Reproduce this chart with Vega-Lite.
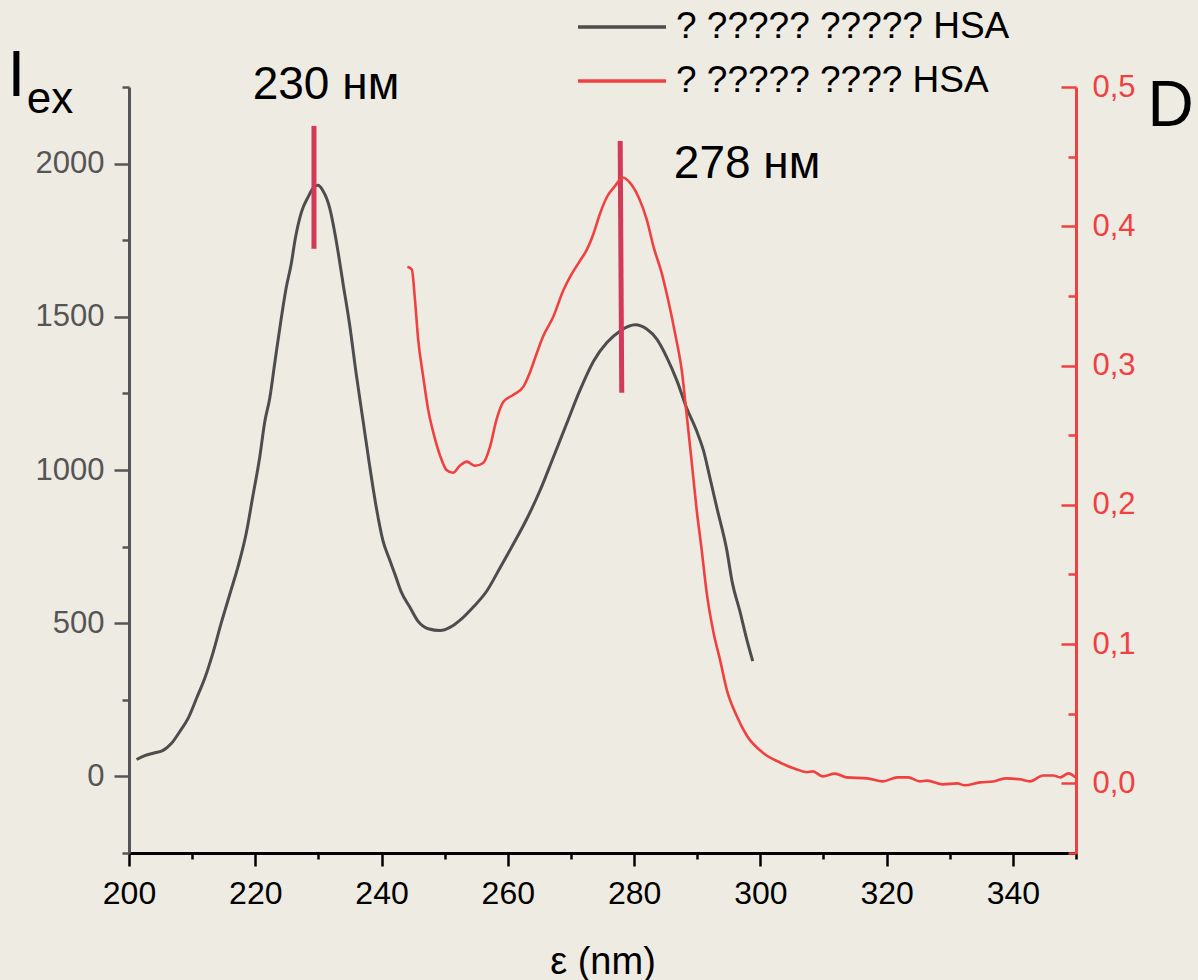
{
  "$schema": "https://vega.github.io/schema/vega-lite/v6.json",
  "width": 947,
  "height": 766,
  "autosize": {"type": "none"},
  "padding": {"left": 129, "top": 87, "right": 122, "bottom": 127},
  "background": "#eeebe3",
  "config": {
    "view": {"stroke": null},
    "font": "Liberation Sans",
    "axis": {"grid": false, "labelFlush": false, "labelOverlap": false}
  },
  "datasets": {
    "excitation": [
      {"nm": 201.2, "I": 55}, {"nm": 202.5, "I": 68}, {"nm": 204.1, "I": 77}, {"nm": 205.4, "I": 85},
      {"nm": 206.7, "I": 107}, {"nm": 208.0, "I": 145}, {"nm": 209.4, "I": 191}, {"nm": 210.7, "I": 255},
      {"nm": 212.0, "I": 320}, {"nm": 213.3, "I": 403}, {"nm": 214.6, "I": 500}, {"nm": 216.0, "I": 597},
      {"nm": 217.3, "I": 687}, {"nm": 218.6, "I": 797}, {"nm": 219.6, "I": 913}, {"nm": 220.7, "I": 1041},
      {"nm": 221.5, "I": 1157}, {"nm": 222.3, "I": 1235}, {"nm": 223.1, "I": 1351}, {"nm": 224.1, "I": 1493},
      {"nm": 224.9, "I": 1595}, {"nm": 225.7, "I": 1673}, {"nm": 226.3, "I": 1751}, {"nm": 227.3, "I": 1841},
      {"nm": 228.4, "I": 1892}, {"nm": 229.2, "I": 1921}, {"nm": 229.9, "I": 1929}, {"nm": 230.7, "I": 1912},
      {"nm": 231.8, "I": 1854}, {"nm": 232.8, "I": 1751}, {"nm": 233.9, "I": 1609}, {"nm": 235.0, "I": 1467},
      {"nm": 236.0, "I": 1312}, {"nm": 237.1, "I": 1157}, {"nm": 238.1, "I": 1016}, {"nm": 239.2, "I": 874},
      {"nm": 240.2, "I": 771}, {"nm": 241.3, "I": 706}, {"nm": 242.1, "I": 661}, {"nm": 243.1, "I": 603},
      {"nm": 244.5, "I": 552}, {"nm": 245.8, "I": 506}, {"nm": 247.4, "I": 482}, {"nm": 249.3, "I": 476},
      {"nm": 250.9, "I": 487}, {"nm": 252.4, "I": 509}, {"nm": 254.5, "I": 552}, {"nm": 256.7, "I": 606},
      {"nm": 258.8, "I": 682}, {"nm": 260.9, "I": 759}, {"nm": 263.0, "I": 840}, {"nm": 265.1, "I": 933},
      {"nm": 267.2, "I": 1041}, {"nm": 269.3, "I": 1150}, {"nm": 271.4, "I": 1259}, {"nm": 273.6, "I": 1356},
      {"nm": 275.7, "I": 1416}, {"nm": 277.8, "I": 1454}, {"nm": 280.2, "I": 1474}, {"nm": 282.0, "I": 1460},
      {"nm": 283.6, "I": 1427}, {"nm": 285.2, "I": 1367}, {"nm": 286.8, "I": 1291}, {"nm": 288.3, "I": 1204},
      {"nm": 289.9, "I": 1128}, {"nm": 291.0, "I": 1063}, {"nm": 292.0, "I": 976}, {"nm": 293.1, "I": 878},
      {"nm": 294.7, "I": 737}, {"nm": 295.5, "I": 639}, {"nm": 296.8, "I": 536}, {"nm": 297.9, "I": 443},
      {"nm": 298.8, "I": 376}
    ],
    "absorption": [
      {"nm": 244.1, "D": 0.371}, {"nm": 244.8, "D": 0.369}, {"nm": 245.3, "D": 0.347}, {"nm": 245.8, "D": 0.319},
      {"nm": 246.6, "D": 0.292}, {"nm": 247.4, "D": 0.268}, {"nm": 248.2, "D": 0.252}, {"nm": 249.3, "D": 0.235},
      {"nm": 250.3, "D": 0.225}, {"nm": 251.3, "D": 0.223}, {"nm": 252.4, "D": 0.228}, {"nm": 253.5, "D": 0.231},
      {"nm": 254.8, "D": 0.228}, {"nm": 256.1, "D": 0.230}, {"nm": 257.2, "D": 0.242}, {"nm": 258.2, "D": 0.261},
      {"nm": 259.3, "D": 0.274}, {"nm": 260.9, "D": 0.279}, {"nm": 262.5, "D": 0.285}, {"nm": 263.5, "D": 0.295},
      {"nm": 264.6, "D": 0.309}, {"nm": 265.6, "D": 0.321}, {"nm": 267.2, "D": 0.335}, {"nm": 268.8, "D": 0.354},
      {"nm": 269.9, "D": 0.364}, {"nm": 271.4, "D": 0.375}, {"nm": 272.5, "D": 0.383}, {"nm": 273.6, "D": 0.395},
      {"nm": 274.6, "D": 0.409}, {"nm": 275.7, "D": 0.421}, {"nm": 277.0, "D": 0.429}, {"nm": 278.2, "D": 0.435},
      {"nm": 279.4, "D": 0.431}, {"nm": 280.7, "D": 0.421}, {"nm": 282.0, "D": 0.405}, {"nm": 283.1, "D": 0.385},
      {"nm": 284.4, "D": 0.366}, {"nm": 285.4, "D": 0.347}, {"nm": 286.5, "D": 0.323}, {"nm": 287.6, "D": 0.295},
      {"nm": 288.3, "D": 0.266}, {"nm": 289.1, "D": 0.232}, {"nm": 289.9, "D": 0.197}, {"nm": 290.7, "D": 0.168},
      {"nm": 291.5, "D": 0.137}, {"nm": 292.6, "D": 0.108}, {"nm": 293.6, "D": 0.089}, {"nm": 294.7, "D": 0.067},
      {"nm": 296.3, "D": 0.048}, {"nm": 297.9, "D": 0.034}, {"nm": 300.4, "D": 0.022}, {"nm": 303.1, "D": 0.015},
      {"nm": 305.8, "D": 0.010}, {"nm": 307.4, "D": 0.008}, {"nm": 308.3, "D": 0.0086}, {"nm": 309.9, "D": 0.005},
      {"nm": 311.8, "D": 0.007}, {"nm": 313.7, "D": 0.0043}, {"nm": 316.9, "D": 0.0036}, {"nm": 319.4, "D": 0.0014},
      {"nm": 321.7, "D": 0.0043}, {"nm": 323.4, "D": 0.0043}, {"nm": 325.3, "D": 0.0014}, {"nm": 326.4, "D": 0.002},
      {"nm": 328.9, "D": -0.0007}, {"nm": 331.2, "D": 0.0}, {"nm": 332.4, "D": -0.0014}, {"nm": 334.8, "D": 0.0007},
      {"nm": 336.9, "D": 0.0014}, {"nm": 338.8, "D": 0.0036}, {"nm": 341.1, "D": 0.0029}, {"nm": 342.7, "D": 0.0014},
      {"nm": 344.8, "D": 0.0057}, {"nm": 346.4, "D": 0.0057}, {"nm": 347.5, "D": 0.0043}, {"nm": 348.8, "D": 0.0072},
      {"nm": 349.9, "D": 0.0043}
    ],
    "peakMarks": [
      {"nm": 229.3, "nmEnd": 229.3, "top": 2123, "bottom": 1722},
      {"nm": 277.8, "nmEnd": 278.05, "top": 2074, "bottom": 1252}
    ],
    "excitationPeak": [
      {"nm": 231.2, "I": 2211, "label": "230 нм"}
    ],
    "absorptionPeak": [
      {"nm": 297.9, "D": 0.435, "label": "278 нм"}
    ],
    "subscript": [
      {"nm": 183.8, "I": 2166, "label": "ex"}
    ]
  },
  "layer": [
    {
      "data": {"name": "excitation"},
      "mark": {"type": "line", "strokeWidth": 3, "interpolate": "monotone"},
      "encoding": {
        "x": {
          "field": "nm", "type": "quantitative",
          "scale": {"domain": [200, 350], "nice": false, "zero": false},
          "axis": {
            "orient": "bottom",
            "values": [200, 220, 240, 260, 280, 300, 320, 340],
            "format": "d",
            "tickSize": 13, "tickColor": "#000000", "tickWidth": 2.5,
            "domainColor": "#000000", "domainWidth": 3,
            "labelFontSize": 32, "labelColor": "#000000", "labelPadding": 12,
            "title": "ε  (nm)", "titleFontSize": 38, "titleFontWeight": "normal", "titleColor": "#000000",
            "titleBaseline": "alphabetic", "titleY": 120
          }
        },
        "y": {
          "field": "I", "type": "quantitative",
          "scale": {"domain": [-250, 2250], "nice": false, "zero": false},
          "axis": {
            "orient": "left",
            "values": [0, 500, 1000, 1500, 2000],
            "format": "d",
            "tickSize": 15, "tickColor": "#555555", "tickWidth": 2.5,
            "domainColor": "#555555", "domainWidth": 3,
            "labelFontSize": 31, "labelColor": "#555555", "labelPadding": 10,
            "title": "I", "titleAngle": 0, "titleAlign": "left", "titleBaseline": "alphabetic",
            "titleX": -122, "titleY": 8, "titleFontSize": 64, "titleFontWeight": "normal", "titleColor": "#000000"
          }
        },
        "color": {
          "datum": "? ????? ????? HSA",
          "scale": {"domain": ["? ????? ????? HSA", "? ????? ???? HSA"], "range": ["#4d4d4d", "#f04040"]},
          "legend": {
            "orient": "none", "legendX": 447, "legendY": -80, "title": null, "padding": 0,
            "symbolType": "stroke", "symbolSize": 7744, "symbolStrokeWidth": 3.5,
            "clipHeight": 40, "rowPadding": 14,
            "labelFontSize": 37, "labelColor": "#000000", "labelOffset": 8, "labelLimit": 0
          }
        }
      }
    },
    {
      "data": {"name": "peakMarks"},
      "mark": {"type": "rule", "color": "#d33a58", "strokeWidth": 5},
      "encoding": {
        "x": {
          "field": "nm", "type": "quantitative",
          "axis": {
            "orient": "bottom",
            "values": [210, 230, 250, 270, 290, 310, 330, 350],
            "labels": false, "domain": false, "title": null,
            "tickSize": 6, "tickColor": "#000000", "tickWidth": 2.5
          }
        },
        "x2": {"field": "nmEnd"},
        "y": {
          "field": "top", "type": "quantitative",
          "scale": {"domain": [-250, 2250], "nice": false, "zero": false},
          "axis": {
            "orient": "left",
            "values": [-250, 250, 750, 1250, 1750, 2250],
            "labels": false, "domain": false, "title": null,
            "tickSize": 7, "tickColor": "#555555", "tickWidth": 2.5
          }
        },
        "y2": {"field": "bottom"}
      }
    },
    {
      "data": {"name": "excitationPeak"},
      "mark": {"type": "text", "fontSize": 46, "align": "center", "baseline": "alphabetic", "color": "#000000"},
      "encoding": {
        "x": {"field": "nm", "type": "quantitative", "axis": null},
        "y": {"field": "I", "type": "quantitative", "axis": null, "scale": {"domain": [-250, 2250], "nice": false, "zero": false}},
        "text": {"field": "label"}
      }
    },
    {
      "data": {"name": "subscript"},
      "mark": {"type": "text", "fontSize": 44, "align": "left", "baseline": "alphabetic", "color": "#000000"},
      "encoding": {
        "x": {"field": "nm", "type": "quantitative", "axis": null},
        "y": {"field": "I", "type": "quantitative", "axis": null, "scale": {"domain": [-250, 2250], "nice": false, "zero": false}},
        "text": {"field": "label"}
      }
    },
    {
      "data": {"name": "absorptionPeak"},
      "mark": {"type": "text", "fontSize": 46, "align": "center", "baseline": "alphabetic", "color": "#000000"},
      "encoding": {
        "x": {"field": "nm", "type": "quantitative", "axis": null},
        "y": {
          "field": "D", "type": "quantitative",
          "scale": {"domain": [-0.05, 0.5], "nice": false, "zero": false},
          "axis": {
            "orient": "right",
            "values": [-0.05, 0.05, 0.15, 0.25, 0.35, 0.45],
            "labels": false, "domain": false, "title": null,
            "tickSize": -8, "tickColor": "#f04040", "tickWidth": 2.5
          }
        },
        "text": {"field": "label"}
      }
    },
    {
      "data": {"name": "absorption"},
      "mark": {"type": "line", "strokeWidth": 2.6, "interpolate": "monotone"},
      "encoding": {
        "x": {"field": "nm", "type": "quantitative", "axis": null},
        "y": {
          "field": "D", "type": "quantitative",
          "scale": {"domain": [-0.05, 0.5], "nice": false, "zero": false},
          "axis": {
            "orient": "right",
            "values": [0, 0.1, 0.2, 0.3, 0.4, 0.5],
            "labelExpr": "replace(format(datum.value, '.1f'), '.', ',')",
            "tickSize": -15, "tickColor": "#f04040", "tickWidth": 2.5,
            "domainColor": "#f04040", "domainWidth": 3,
            "labelFontSize": 31, "labelColor": "#f04040", "labelPadding": 31,
            "title": "D", "titleAngle": 0, "titleAlign": "left", "titleBaseline": "alphabetic",
            "titleX": 71, "titleY": 38, "titleFontSize": 64, "titleFontWeight": "normal", "titleColor": "#000000"
          }
        },
        "color": {"datum": "? ????? ???? HSA"}
      }
    }
  ],
  "resolve": {"scale": {"y": "independent"}, "axis": {"x": "independent"}}
}
